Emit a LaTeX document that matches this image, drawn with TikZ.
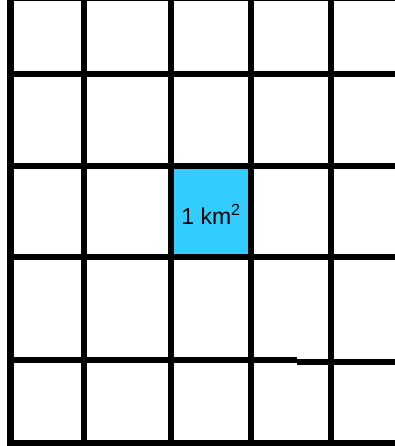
\documentclass[tikz,border=0pt]{standalone}
\usepackage{fontspec}
\setsansfont{Liberation Sans}
\definecolor{cellblue}{HTML}{33CCFF}

\begin{document}
\begin{tikzpicture}[
    x=1pt, y=-1pt,
    % Styles
    gridline/.style={line width=6pt},
    border/.style={line width=7pt},
    areatext/.style={font=\sffamily\fontsize{23}{23}\selectfont, inner sep=0pt},
]
\useasboundingbox (0,0) rectangle (395,446);

% ===== Highlighted cell =====
\fill[cellblue] (170.5,166.5) rectangle (251,257);
\node[areatext] (area) at (211,214) {1 km\textsuperscript{2}};

% ===== Horizontal lines =====
\foreach \y in {-1.5, 74, 166.5, 257, 443}
    \draw[gridline] (10.5,\y) -- (395,\y);
% slightly offset line
\draw[gridline] (10.5,360) -- (297,360);
\draw[gridline] (297,361.5) -- (395,361.5);

% ===== Vertical lines =====
\foreach \x in {84, 170.5, 251, 331}
    \draw[gridline] (\x,0) -- (\x,446);
\draw[border] (10.5,0) -- (10.5,446);

\end{tikzpicture}
\end{document}
